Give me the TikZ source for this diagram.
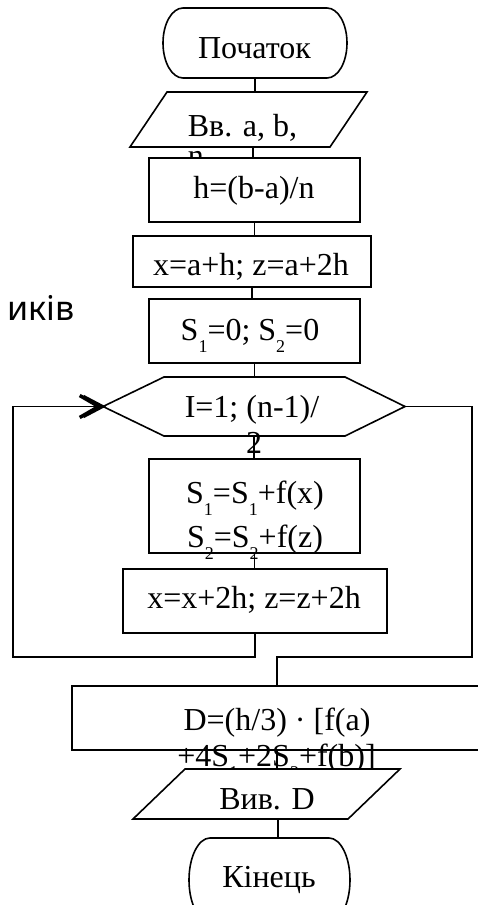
\documentclass[tikz,border=0pt]{standalone}
\usepackage{fontspec}
\setmainfont{Liberation Serif}
\newfontfamily\ukrsans{Noto Sans}
\usetikzlibrary{arrows.meta}
\newcommand{\lowsub}[1]{\raisebox{-12pt}{\fontsize{18}{18}\selectfont #1}}
\begin{document}
\begin{tikzpicture}[x=1pt,y=-1pt,line width=1.6pt,
  lbl/.style={inner sep=0pt, font=\fontsize{32}{36}\selectfont},
  boxnode/.style={draw, fill=white, inner sep=0pt},
  slot/.style={inner sep=0pt},
  loopback/.style={-{Straight Barb[length=19pt,width=22pt,line width=3.5pt]}},
  barb/.style={line width=3.5pt}
]
\useasboundingbox (0,0) rectangle (477,905);
% side text
\node[inner sep=0pt, anchor=base east, font=\ukrsans\fontsize{34}{40}\selectfont] (side) at (75,320) {иків};
% start
\node[slot, minimum width=184pt, minimum height=70pt] (start) at (255,43) {};
\draw[fill=white] (183,8) -- (327,8) arc[start angle=90, end angle=-90, x radius=20pt, y radius=35pt]
  -- (183,78) arc[start angle=270, end angle=90, x radius=20pt, y radius=35pt] -- cycle;
\node[lbl, anchor=base] (tstart) at (254.5,58) {Початок};
% input
\node[slot, minimum width=237pt, minimum height=55pt] (in) at (253,119.5) {};
\draw[fill=white] (167,92) -- (367,92) -- (330,147) -- (130,147) -- cycle;
\node[lbl, anchor=base west] (tin1) at (187,136) {Вв. a, b,};
\node[lbl, anchor=base west] (tin2) at (187,166) {n};
% h
\node[boxnode, minimum width=211pt, minimum height=64pt] (hbox) at (254.5,190) {};
\node[lbl, anchor=base] (th) at (254,198) {h=(b-a)/n};
% x=a+h
\node[boxnode, minimum width=238pt, minimum height=51pt] (xbox1) at (252,261.5) {};
\node[lbl, anchor=base] (tx1) at (251,275) {x=a+h; z=a+2h};
% S=0
\node[boxnode, minimum width=211pt, minimum height=64pt] (sbox) at (254.5,331) {};
\node[lbl, anchor=base] (ts) at (250,340) {S\lowsub{1}=0; S\lowsub{2}=0};
% hexagon
\node[slot, minimum width=302pt, minimum height=59pt] (hex) at (254,406.5) {};
\draw[fill=white] (103,406.5) -- (164,377) -- (345,377) -- (405,406.5) -- (345,436) -- (164,436) -- cycle;
\node[lbl, anchor=base] (thex1) at (252,417) {I=1; (n-1)/};
% S1 box
\node[boxnode, minimum width=211pt, minimum height=94pt] (s1box) at (254.5,506) {};
\node[lbl, anchor=base] (ts1a) at (255,503) {S\lowsub{1}=S\lowsub{1}+f(x)};
\node[lbl, anchor=base] (ts1b) at (255,547) {S\lowsub{2}=S\lowsub{2}+f(z)};
% x=x+2h
\node[boxnode, minimum width=264pt, minimum height=64pt] (xbox2) at (255,601) {};
\node[lbl, anchor=base] (tx2) at (254,608) {x=x+2h; z=z+2h};
% D box
\node[boxnode, minimum width=410pt, minimum height=64pt] (dbox) at (277,718) {};
\node[lbl, anchor=base] (td1) at (277,730) {D=(h/3) · [f(a)};
\node[lbl, anchor=base] (td2) at (276.5,766) {+4S\lowsub{1}+2S\lowsub{2}+f(b)]};
% output
\node[slot, minimum width=200pt, minimum height=50pt] (out) at (278,794) {};
\draw[fill=white] (185,769) -- (400,769) -- (348,819) -- (133,819) -- cycle;
\node[lbl, anchor=base] (tout) at (267,809) {Вив. D};
% end
\node[slot, minimum width=162pt, minimum height=84pt] (stop) at (270,880) {};
\draw[fill=white] (210,838) -- (329,838) arc[start angle=90, end angle=-90, x radius=21pt, y radius=42pt]
  -- (210,922) arc[start angle=270, end angle=90, x radius=21pt, y radius=42pt] -- cycle;
\node[lbl, anchor=base] (tstop) at (269,887) {Кінець};
% connectors
\coordinate (lc) at (13,657);
\coordinate (rc) at (472,657);
\draw (start.south) -- (start.south |- in.north);
\draw (in.south) -- (in.south |- hbox.north);
\draw (hbox.south) -- (hbox.south |- xbox1.north);
\draw (xbox1.south) -- (xbox1.south |- sbox.north);
\draw (sbox.south) -- (sbox.south |- hex.north);
\draw (hex.south) -- (hex.south |- s1box.north);
\draw (s1box.south) -- (s1box.south |- xbox2.north);
\draw[loopback] (xbox2.south) |- (lc) |- (hex.west);
\draw[barb] ([shift={(-19,-10)}]hex.west) -- (hex.west) -- ([shift={(-19,10)}]hex.west);
\draw (hex.east) -| (rc) -| (dbox.north);
\draw (dbox.south) -- (dbox.south |- out.north);
\draw (out.south) -- (out.south |- stop.north);
\node[lbl, anchor=base] (thex2) at (254,453) {2};
\end{tikzpicture}
\end{document}
